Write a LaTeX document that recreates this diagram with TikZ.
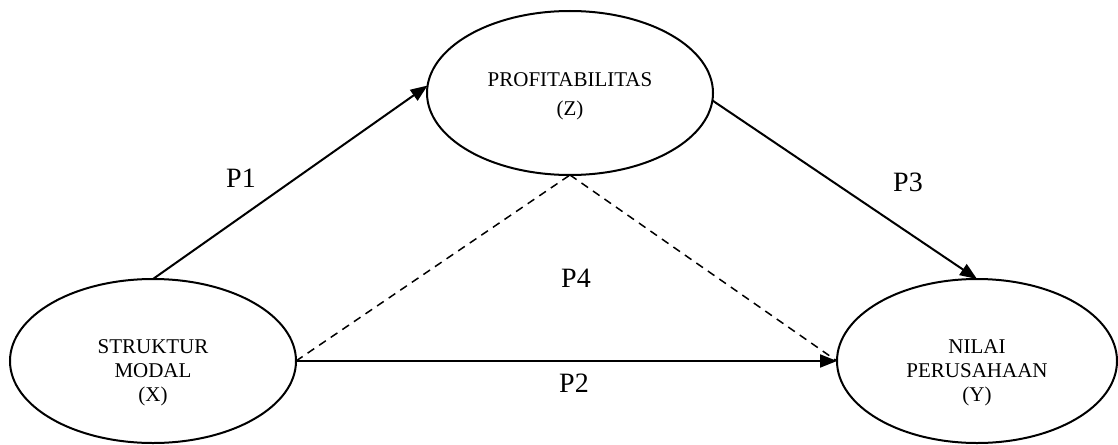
\documentclass[tikz,border=0pt]{standalone}
\usepackage{fontspec}
\setmainfont{Liberation Serif}
\usepackage{tikz}
\usetikzlibrary{arrows.meta}
\usetikzlibrary{shapes.geometric}

\begin{document}
\begin{tikzpicture}
		[x=1pt, y=-1pt,
		var ellipse/.style={draw, ellipse, line width=2pt, inner sep=0pt, outer sep=0pt,
			minimum width=#1, minimum height=164pt},
		var ellipse/.default=286pt,
		var text/.style={inner sep=0pt, align=center, font=\fontsize{21}{24}\selectfont},
		path label/.style={inner sep=0pt, font=\fontsize{28}{30}\selectfont},
		direct/.style={line width=2pt, -{Triangle[length=17pt, width=13pt]}},
		mediated/.style={line width=1.5pt, dash pattern=on 8pt off 6pt}]
		
		\useasboundingbox (0,0) rectangle (1118,444);
		
		% variables
		\node[var ellipse] (Z) at (570,93) {};
		\node[var ellipse] (X) at (153,361) {};
		\node[var ellipse=280pt] (Y) at (977,361) {};
		
		\node[var text] (Zt) at (570,96) {PROFITABILITAS\\[5pt](Z)};
		\node[var text] (Xt) at (153,373) {STRUKTUR\\MODAL\\(X)};
		\node[var text] (Yt) at (977,373) {NILAI\\PERUSAHAAN\\(Y)};
		
		% paths
		\draw[direct] (X.north) -- (Z.177);
		\draw[direct] (Z.-3) -- (Y.north);
		\draw[direct] (X.east) -- (Y.west);
		\draw[mediated] (X.east) -- (Z.south);
		\draw[mediated] (Z.south) -- (Y.west);
		
		\node[path label] (p1) at (241,178) {P1};
		\node[path label] (p2) at (574,383) {P2};
		\node[path label] (p3) at (908,182) {P3};
		\node[path label] (p4) at (576,278) {P4};
		
	\end{tikzpicture}
\end{document}
